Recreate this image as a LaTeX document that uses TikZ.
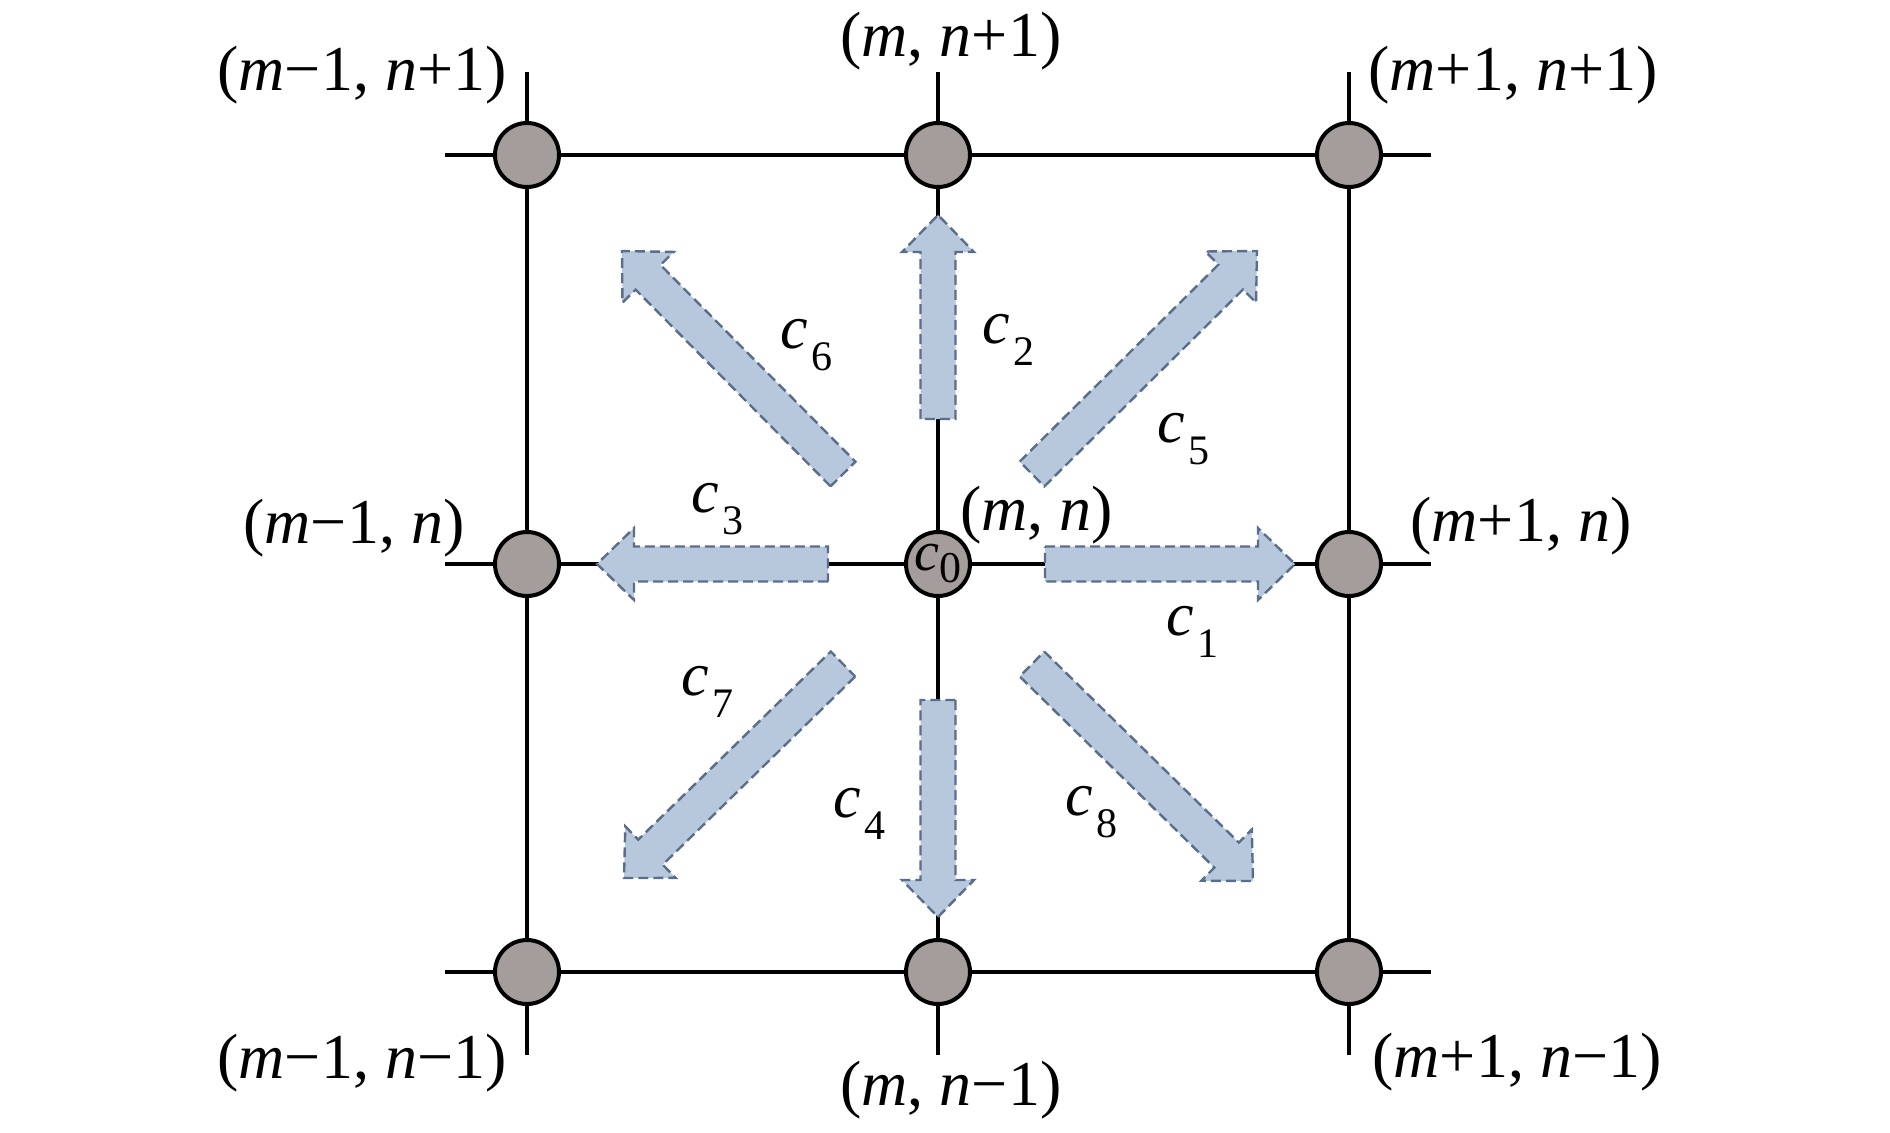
\documentclass[tikz,border=0pt]{standalone}
\usepackage{fontspec}
\setmainfont{Liberation Serif}
\usetikzlibrary{calc}
\definecolor{nodegray}{RGB}{164,157,155}
\definecolor{arrfill}{RGB}{183,200,220}
\definecolor{arrline}{RGB}{90,110,140}
\tikzset{
  gridnode/.style={circle, draw=black, line width=2pt, fill=nodegray, minimum size=32pt, inner sep=0pt},
  gridline/.style={line width=2pt, black},
  fatarr/.style={fill=arrfill, draw=arrline, line width=1.2pt, dash pattern=on 5pt off 2.5pt, line join=miter},
  coordlab/.style={anchor=base west, inner sep=0pt, font=\fontsize{32}{38}\selectfont},
  clabel/.style={anchor=base west, inner sep=0pt, font=\fontsize{31}{37}\selectfont},
}
\newcommand\fatarrow[2]{%
  \path ($(#2)!18.5pt!(#1)$) coordinate (hb);
  \draw[fatarr] ($(#1)!8.75pt!90:(hb)$) -- ($(hb)!8.75pt!-90:(#1)$) -- ($(hb)!18pt!-90:(#1)$) -- (#2) -- ($(hb)!18pt!90:(#1)$) -- ($(hb)!8.75pt!90:(#1)$) -- ($(#1)!8.75pt!-90:(hb)$) -- cycle;}
\newcommand\clab[1]{\textit{c}\kern2pt\raisebox{-11pt}{\fontsize{21}{21}\selectfont #1}}
\begin{document}
\begin{tikzpicture}[x=0.5pt,y=-0.5pt]
\useasboundingbox (0,0) rectangle (1890,1132);
% grid nodes
\node[gridnode] (tl) at (527,155) {};
\node[gridnode] (tc) at (938,155) {};
\node[gridnode] (tr) at (1349,155) {};
\node[gridnode] (ml) at (527,564) {};
\node[gridnode] (mc) at (938,564) {\fontsize{28}{30}\selectfont\textit{c}\raisebox{-6pt}{\fontsize{22}{24}\selectfont 0}};
\node[gridnode] (mr) at (1349,564) {};
\node[gridnode] (bl) at (527,972) {};
\node[gridnode] (bc) at (938,972) {};
\node[gridnode] (br) at (1349,972) {};
% stub ends
\coordinate (wt) at (445,155); \coordinate (et) at (1431,155);
\coordinate (wm) at (445,564); \coordinate (em) at (1431,564);
\coordinate (wb) at (445,972); \coordinate (eb) at (1431,972);
\coordinate (nl) at (527,72);  \coordinate (nc) at (938,72);  \coordinate (nr) at (1349,72);
\coordinate (sl) at (527,1055); \coordinate (sc) at (938,1055); \coordinate (sr) at (1349,1055);
% grid lines
\draw[gridline] (wt) -- (tl) -- (tc) -- (tr) -- (et);
\draw[gridline] (wm) -- (ml) -- (mc) -- (mr) -- (em);
\draw[gridline] (wb) -- (bl) -- (bc) -- (br) -- (eb);
\draw[gridline] (nl) -- (tl) -- (ml) -- (bl) -- (sl);
\draw[gridline] (nc) -- (tc) -- (mc) -- (bc) -- (sc);
\draw[gridline] (nr) -- (tr) -- (mr) -- (br) -- (sr);
% arrow ends
\coordinate (a1t) at (1045,564); \coordinate (a1h) at (1295,564);
\coordinate (a2t) at (938,419);  \coordinate (a2h) at (938,215);
\coordinate (a3t) at (828,564);  \coordinate (a3h) at (597,564);
\coordinate (a4t) at (938,700);  \coordinate (a4h) at (938,917);
\coordinate (a5t) at (1032,474); \coordinate (a5h) at (1257,251);
\coordinate (a6t) at (843,474);  \coordinate (a6h) at (622,251);
\coordinate (a7t) at (843,664);  \coordinate (a7h) at (624,878);
\coordinate (a8t) at (1032,664); \coordinate (a8h) at (1253,881);
\fatarrow{a1t}{a1h}
\fatarrow{a2t}{a2h}
\fatarrow{a3t}{a3h}
\fatarrow{a4t}{a4h}
\fatarrow{a5t}{a5h}
\fatarrow{a6t}{a6h}
\fatarrow{a7t}{a7h}
\fatarrow{a8t}{a8h}
% c labels
\node[clabel] (l1) at (1166,635) {\clab{1}};
\node[clabel] (l2) at (982,343) {\clab{2}};
\node[clabel] (l3) at (691,512) {\clab{3}};
\node[clabel] (l4) at (833,817) {\clab{4}};
\node[clabel] (l5) at (1157,442) {\clab{5}};
\node[clabel] (l6) at (780,348) {\clab{6}};
\node[clabel] (l7) at (681,695) {\clab{7}};
\node[clabel] (l8) at (1065,815) {\clab{8}};
% coordinate labels
\node[coordlab] (p1) at (217,90) {(\textit{m}−1, \textit{n}+1)};
\node[coordlab] (p2) at (840,56) {(\textit{m}, \textit{n}+1)};
\node[coordlab] (p3) at (1368,90) {(\textit{m}+1, \textit{n}+1)};
\node[coordlab] (p4) at (243,543) {(\textit{m}−1, \textit{n})};
\node[coordlab] (p5) at (960,530) {(\textit{m}, \textit{n})};
\node[coordlab] (p6) at (1410,541) {(\textit{m}+1, \textit{n})};
\node[coordlab] (p7) at (217,1078) {(\textit{m}−1, \textit{n}−1)};
\node[coordlab] (p8) at (840,1105) {(\textit{m}, \textit{n}−1)};
\node[coordlab] (p9) at (1372,1077) {(\textit{m}+1, \textit{n}−1)};
\end{tikzpicture}
\end{document}
